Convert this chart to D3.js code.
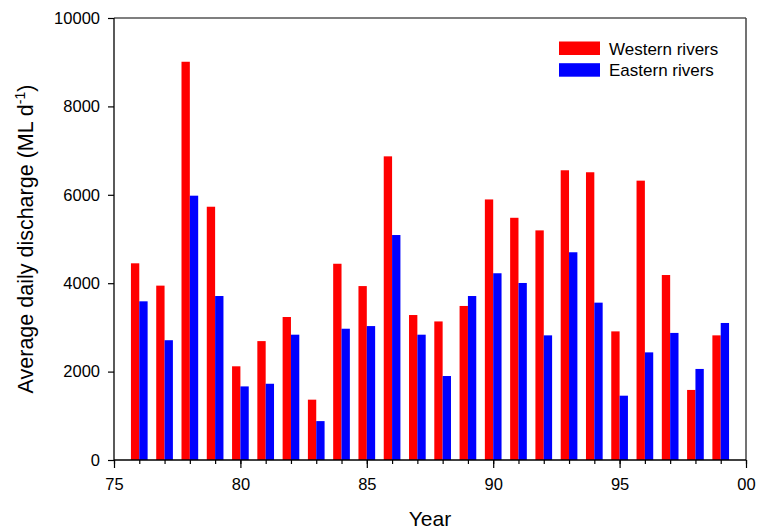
<!DOCTYPE html>
<html>
<head>
<meta charset="utf-8">
<script src="https://cdn.jsdelivr.net/npm/d3@7"></script>
<style>
  html, body { margin: 0; padding: 0; background: #fff; }
  svg { display: block; font-family: "Liberation Sans", Arial, sans-serif; }
</style>
</head>
<body>
<svg id="chart" width="761" height="531"></svg>
<script>
// Years (two-digit), 1976–1999
const years = [76, 77, 78, 79, 80, 81, 82, 83, 84, 85, 86, 87, 88, 89, 90, 91, 92, 93, 94, 95, 96, 97, 98, 99];
// Average daily discharge, ML per day
const western = [4450, 3945, 9010, 5730, 2120, 2690, 3235, 1365, 4440, 3935, 6870, 3280, 3135, 3485, 5895, 5480, 5195, 6555, 6510, 2910, 6320, 4185, 1585, 2820];
const eastern = [3590, 2710, 5980, 3710, 1665, 1725, 2835, 880, 2970, 3030, 5090, 2835, 1900, 3710, 4225, 4005, 2820, 4700, 3560, 1455, 2435, 2875, 2060, 3100];
const seriesNames = ["Western rivers", "Eastern rivers"];
const seriesColors = ["#ff0000", "#0000ff"];
const yTicks = [0, 2000, 4000, 6000, 8000, 10000];
const xMajorTicks = [75, 80, 85, 90, 95, 100];
const xTickLabels = ["75", "80", "85", "90", "95", "00"];

const svg = d3.select("#chart");
const plotLeft = 114, plotRight = 746, plotTop = 18, plotBottom = 460;

const x = d3.scaleLinear().domain([75, 100]).range([plotLeft, plotRight]);
const y = d3.scaleLinear().domain([0, 10000]).range([plotBottom, plotTop]);
const barW = 0.33; // in years

// Bars: western to the left of each year tick, eastern to the right
const g = svg.append("g");
[western, eastern].forEach((vals, si) => {
  g.selectAll(null)
    .data(years.map((yr, i) => ({ yr, v: vals[i] })))
    .enter().append("rect")
    .attr("x", d => si === 0 ? x(d.yr - barW) : x(d.yr))
    .attr("width", x(75 + barW) - x(75))
    .attr("y", d => y(d.v))
    .attr("height", d => y(0) - y(d.v))
    .attr("fill", seriesColors[si]);
});

// Frame: top and right lines
svg.append("line").attr("x1", plotLeft).attr("x2", plotRight).attr("y1", plotTop).attr("y2", plotTop)
  .attr("stroke", "#000").attr("stroke-width", 1.2);
svg.append("line").attr("x1", plotRight).attr("x2", plotRight).attr("y1", plotTop).attr("y2", plotBottom)
  .attr("stroke", "#444").attr("stroke-width", 1.5);

// Y axis
const yAxis = d3.axisLeft(y).tickValues(yTicks).tickSize(6).tickPadding(8).tickFormat(d3.format("d"));
const yg = svg.append("g").attr("transform", `translate(${plotLeft},0)`).call(yAxis);
yg.select(".domain").attr("stroke", "#000").attr("stroke-width", 1.3).attr("d", `M0,${plotTop}V${plotBottom}`);
yg.selectAll(".tick line").attr("stroke", "#000").attr("stroke-width", 1.2);
yg.selectAll(".tick text").attr("font-size", 16.5).attr("fill", "#000")
  .attr("font-family", "Liberation Sans, Arial, sans-serif");

// X axis: minor ticks every year, labelled major ticks every 5 years
const xMinor = d3.axisBottom(x).tickValues(d3.range(75, 101)).tickSize(4).tickFormat("");
const xm = svg.append("g").attr("transform", `translate(0,${plotBottom})`).call(xMinor);
xm.select(".domain").remove();
xm.selectAll(".tick line").attr("stroke", "#000").attr("stroke-width", 1.2);

const xAxis = d3.axisBottom(x).tickValues(xMajorTicks).tickSize(8).tickPadding(10)
  .tickFormat((d, i) => xTickLabels[i]);
const xg = svg.append("g").attr("transform", `translate(0,${plotBottom})`).call(xAxis);
xg.select(".domain").attr("stroke", "#000").attr("stroke-width", 1.3).attr("d", `M${plotLeft},0H${plotRight}`);
xg.selectAll(".tick line").attr("stroke", "#000").attr("stroke-width", 1.2);
xg.selectAll(".tick text").attr("font-size", 16.5).attr("fill", "#000")
  .attr("font-family", "Liberation Sans, Arial, sans-serif");

// Axis titles
svg.append("text").attr("x", (plotLeft + plotRight) / 2).attr("y", 526)
  .attr("text-anchor", "middle").attr("font-size", 21).text("Year");

const yt = svg.append("text")
  .attr("transform", `translate(33,${(plotTop + plotBottom) / 2}) rotate(-90)`)
  .attr("text-anchor", "middle").attr("font-size", 21.5);
yt.append("tspan").text("Average daily discharge (ML d");
yt.append("tspan").attr("font-size", 14).attr("dy", -8).text("-1");
yt.append("tspan").attr("dy", 8).text(")");

// Legend
const legend = svg.append("g");
seriesNames.forEach((name, i) => {
  const ly = 41.5 + i * 21.7;
  legend.append("rect").attr("x", 559).attr("y", ly).attr("width", 41).attr("height", 13.5)
    .attr("fill", seriesColors[i]);
  legend.append("text").attr("x", 609).attr("y", ly + 13).attr("font-size", 17)
    .attr("fill", "#000").text(name);
});
</script>
</body>
</html>
